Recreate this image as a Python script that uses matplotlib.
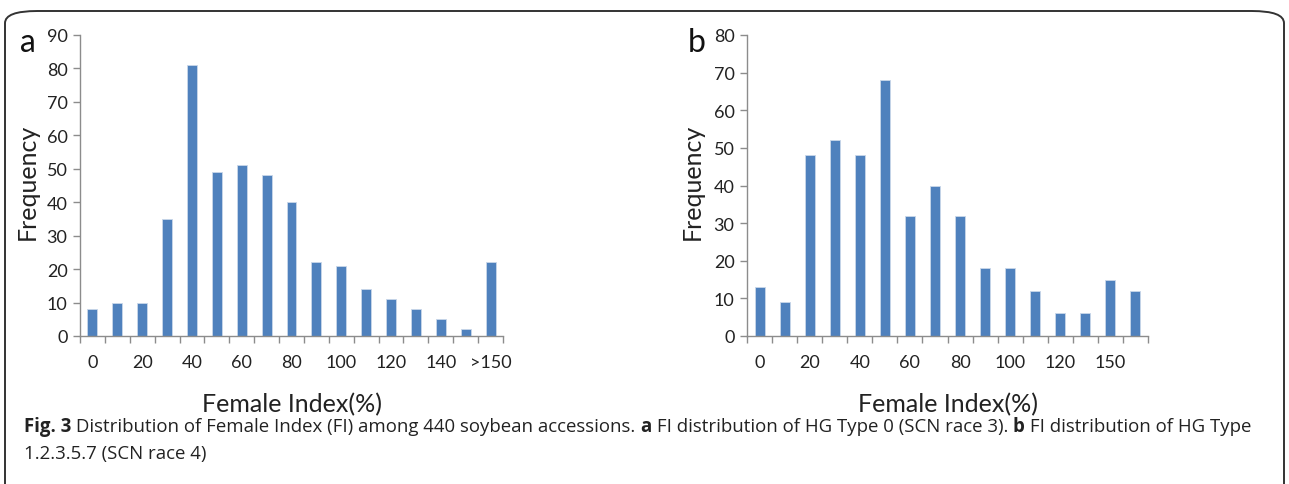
import matplotlib
matplotlib.use("Agg")
import matplotlib.pyplot as plt
import numpy as np
from matplotlib.patches import FancyBboxPatch
from matplotlib.offsetbox import TextArea, HPacker, AnchoredOffsetbox

# panel a: HG Type 0 (SCN race 3)
freq_a = [8, 10, 10, 35, 81, 49, 51, 48, 40, 22, 21, 14, 11, 8, 5, 2, 22]
labels_a = ["0", "20", "40", "60", "80", "100", "120", "140", ">150"]
# panel b: HG Type 1.2.3.5.7 (SCN race 4)
freq_b = [13, 9, 48, 52, 48, 68, 32, 40, 32, 18, 18, 12, 6, 6, 15, 12]
labels_b = ["0", "20", "40", "60", "80", "100", "120", "150"]

W, H = 1289, 485
bar_color = "#4F81BD"
axis_gray = "#8C8C8C"
plt.rcParams["font.family"] = ["Lato", "DejaVu Sans"]

fig = plt.figure(figsize=(W / 100, H / 100), dpi=100)

# rounded frame around the whole figure
frame = FancyBboxPatch((5 / W, -0.2), 1279 / W, (H - 12) / H + 0.2,
                       boxstyle="round,pad=0,rounding_size=0.025",
                       transform=fig.transFigure, fill=False,
                       ec="#333333", lw=1.4)
fig.patches.append(frame)


def px_axes(left, right, top, bottom):
    return fig.add_axes([left / W, (H - bottom) / H, (right - left) / W, (bottom - top) / H])


def draw_panel(ax, freq, labels, ymax, letter, ylab_x):
    x = np.arange(len(freq))
    ax.bar(x, freq, width=0.4, color=bar_color, edgecolor="#C9D7EA", linewidth=0.6)
    ax.set_xlim(-0.5, len(freq) - 0.5)
    ax.set_ylim(0, ymax)
    ax.set_yticks(np.arange(0, ymax + 1, 10))
    ax.set_xticks(np.arange(0, 2 * len(labels), 2))
    ax.set_xticklabels(labels)
    ax.set_xticks(np.arange(-0.5, len(freq), 1), minor=True)
    ax.tick_params(axis="x", which="major", length=0, pad=13, labelsize=13, labelcolor="#222222")
    ax.tick_params(axis="x", which="minor", length=5, width=1, color=axis_gray, direction="out")
    ax.tick_params(axis="y", length=5, width=1, color=axis_gray, labelsize=13, labelcolor="#222222", pad=4)
    for s in ["top", "right"]:
        ax.spines[s].set_visible(False)
    for s in ["left", "bottom"]:
        ax.spines[s].set_color(axis_gray)
        ax.spines[s].set_linewidth(1)
    ax.set_xlabel("Female Index(%)", fontsize=18, color="#222222")
    ax.xaxis.set_label_coords(0.5, -0.185)
    ax.set_ylabel("Frequency", fontsize=18, color="#222222", va="center")
    ax.yaxis.set_label_coords(ylab_x, 0.515)
    ax.text(letter[1], 0.947, letter[0], transform=ax.transAxes, fontsize=23,
            ha="center", va="baseline", color="#111111")


ax_a = px_axes(80, 503, 36, 337)
draw_panel(ax_a, freq_a, labels_a, 90, ("a", -0.123), -0.125)
ax_b = px_axes(747, 1148, 36, 337)
draw_panel(ax_b, freq_b, labels_b, 80, ("b", -0.125), -0.137)

# caption with bold parts
cap_font = dict(family=["Open Sans", "DejaVu Sans"], size=13.4, color="#222222")


def caption_line(parts, y):
    boxes = [TextArea(t, textprops=dict(cap_font, weight=w)) for t, w in parts]
    pack = HPacker(children=boxes, pad=0, sep=0, align="baseline")
    ab = AnchoredOffsetbox(loc="center left", child=pack, frameon=False,
                           bbox_to_anchor=(24 / W, (H - y) / H),
                           bbox_transform=fig.transFigure, borderpad=0, pad=0)
    fig.add_artist(ab)


caption_line([("Fig. 3", "bold"),
              (" Distribution of Female Index (FI) among 440 soybean accessions. ", "normal"),
              ("a", "bold"),
              (" FI distribution of HG Type 0 (SCN race 3). ", "normal"),
              ("b", "bold"),
              (" FI distribution of HG Type", "normal")], 427)
caption_line([("1.2.3.5.7 (SCN race 4)", "normal")], 454)

fig.savefig("out.png", dpi=100)
